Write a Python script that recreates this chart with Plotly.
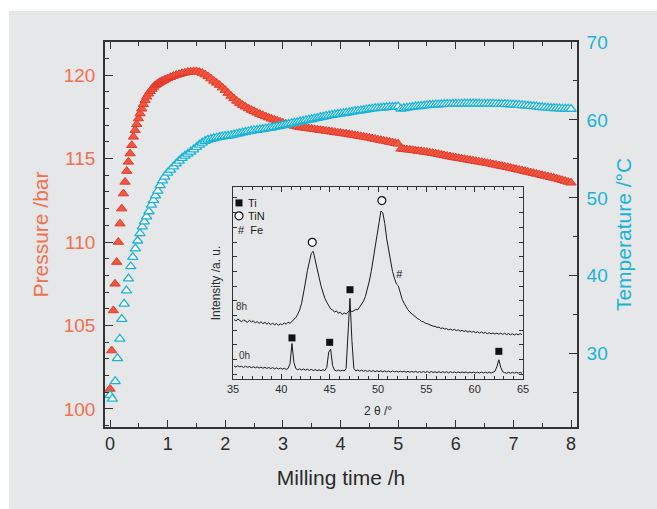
import plotly.graph_objects as go

# ---------------- main chart data ----------------
# Pressure (bar) - individually visible early points
press_t_early = [0.0, 0.029, 0.058, 0.087, 0.116, 0.145, 0.174, 0.203, 0.232, 0.261,
                 0.29, 0.319, 0.348, 0.377, 0.406, 0.435, 0.464, 0.493, 0.522, 0.551,
                 0.58, 0.609, 0.638, 0.667, 0.696, 0.725, 0.754, 0.783, 0.812, 0.841,
                 0.87, 0.899, 0.928, 0.957]
press_early = [101.2, 103.5, 105.9, 107.5, 108.8, 110.0, 111.1, 112.0, 112.9, 113.6,
               114.25, 114.8, 115.3, 115.8, 116.3, 116.7, 117.05, 117.4, 117.7, 117.98,
               118.25, 118.5, 118.7, 118.88, 119.03, 119.16, 119.28, 119.38, 119.45, 119.52,
               119.58, 119.63, 119.68, 119.73]
# Pressure band, every 0.05 h from 1.00 h to 8.00 h
press_band_start = 1.0
press_band_step = 0.05
press_band = [
    119.80, 119.87, 119.94, 120.00, 120.05, 120.10, 120.14, 120.18, 120.20, 120.22,
    120.22, 120.18, 120.12, 120.03, 119.92, 119.79, 119.65, 119.53, 119.40, 119.25,
    119.10, 118.92, 118.75, 118.60, 118.45, 118.32, 118.20, 118.10, 118.00, 117.91,
    117.83, 117.74, 117.66, 117.59, 117.52, 117.45, 117.38, 117.32, 117.26, 117.20,
    117.14, 117.08, 117.03, 116.99, 116.95, 116.91, 116.88, 116.85, 116.83, 116.80,
    116.78, 116.75, 116.73, 116.70, 116.68, 116.65, 116.63, 116.60, 116.58, 116.55,
    116.53, 116.50, 116.48, 116.45, 116.42, 116.39, 116.36, 116.33, 116.30, 116.27,
    116.24, 116.20, 116.17, 116.13, 116.10, 116.06, 116.03, 115.99, 115.96, 115.92,
    115.88, 115.58, 115.56, 115.54, 115.52, 115.50, 115.48, 115.45, 115.43, 115.40,
    115.38, 115.35, 115.32, 115.29, 115.26, 115.22, 115.19, 115.15, 115.12, 115.08,
    115.05, 115.02, 114.99, 114.96, 114.93, 114.90, 114.87, 114.84, 114.81, 114.78,
    114.75, 114.72, 114.69, 114.65, 114.62, 114.58, 114.55, 114.51, 114.48, 114.44,
    114.40, 114.36, 114.32, 114.28, 114.24, 114.20, 114.16, 114.12, 114.08, 114.04,
    114.00, 113.96, 113.92, 113.88, 113.84, 113.80, 113.75, 113.70, 113.65, 113.60,
    113.55]

# Temperature (°C)
temp_t_early = [0.0, 0.04, 0.09, 0.13, 0.17, 0.205, 0.245, 0.285, 0.32, 0.36,
                0.395, 0.44, 0.48, 0.52, 0.56, 0.595, 0.635, 0.675, 0.72, 0.755,
                0.79, 0.83, 0.87, 0.91, 0.95]
temp_early = [24.7, 24.2, 26.45, 29.4, 31.9, 34.45, 36.4, 38.1, 39.65, 41.2,
              42.4, 43.5, 44.5, 45.45, 46.3, 46.95, 47.6, 48.25, 49.1, 49.7,
              50.3, 50.9, 51.6, 52.2, 52.7]
temp_band_start = 1.0
temp_band_step = 0.05
temp_band = [
    53.20, 53.60, 54.00, 54.40, 54.75, 55.10, 55.40, 55.65, 55.90, 56.20,
    56.50, 56.80, 57.05, 57.28, 57.45, 57.55, 57.65, 57.72, 57.80, 57.86,
    57.92, 57.97, 58.03, 58.11, 58.20, 58.28, 58.37, 58.45, 58.52, 58.59,
    58.65, 58.71, 58.77, 58.83, 58.88, 58.94, 59.00, 59.07, 59.15, 59.22,
    59.30, 59.38, 59.47, 59.55, 59.62, 59.70, 59.78, 59.86, 59.94, 60.01,
    60.09, 60.17, 60.25, 60.33, 60.41, 60.49, 60.56, 60.63, 60.69, 60.75,
    60.81, 60.86, 60.92, 60.98, 61.04, 61.10, 61.15, 61.21, 61.27, 61.33,
    61.39, 61.44, 61.48, 61.52, 61.55, 61.58, 61.61, 61.64, 61.66, 61.69,
    61.72, 61.42, 61.48, 61.54, 61.60, 61.65, 61.70, 61.75, 61.79, 61.83,
    61.87, 61.90, 61.93, 61.96, 61.98, 62.00, 62.02, 62.04, 62.05, 62.06,
    62.07, 62.08, 62.08, 62.09, 62.09, 62.09, 62.09, 62.09, 62.09, 62.08,
    62.08, 62.07, 62.07, 62.06, 62.05, 62.04, 62.03, 62.02, 62.00, 61.98,
    61.96, 61.94, 61.91, 61.88, 61.85, 61.82, 61.78, 61.74, 61.70, 61.66,
    61.62, 61.59, 61.56, 61.53, 61.50, 61.48, 61.46, 61.44, 61.43, 61.42,
    61.40]

# ---------------- inset (XRD) data ----------------
xrd_start = 35.1   # 2-theta of first sample
xrd_step = 0.2
xrd_8h = [
    31.0, 30.2, 31.2, 30.5, 29.8, 30.8, 30.0, 29.5, 30.6, 29.7,
    30.3, 29.2, 29.9, 29.0, 29.8, 28.8, 29.5, 28.6, 29.3, 28.4,
    29.0, 28.2, 28.9, 28.0, 28.7, 28.3, 29.2, 28.5, 29.6, 29.0,
    30.0, 30.8, 32.0, 33.8, 36.0, 39.5, 44.5, 50.5, 56.5, 62.0,
    65.5, 66.5, 62.5, 58.5, 53.0, 48.5, 45.0, 42.0, 40.0, 38.0,
    36.5, 36.0, 34.8, 35.5, 34.2, 34.8, 33.6, 34.5, 33.8, 34.8,
    36.0, 35.0, 35.5, 36.2, 36.0, 37.5, 38.5, 40.5, 43.0, 46.5,
    51.0, 56.0, 62.5, 69.5, 76.5, 83.0, 87.5, 86.5, 81.0, 73.0,
    66.5, 60.5, 56.0, 52.5, 49.5, 48.5, 44.5, 41.5, 39.5, 37.5,
    36.0, 34.8, 34.0, 32.8, 32.2, 31.4, 30.9, 30.0, 29.8, 29.0,
    28.8, 28.3, 28.0, 27.5, 27.4, 26.9, 27.0, 26.3, 26.6, 26.0,
    26.2, 25.6, 26.0, 25.4, 25.9, 25.2, 25.6, 24.9, 25.4, 24.7,
    25.2, 24.4, 25.0, 24.3, 24.8, 24.1, 24.6, 23.9, 24.5, 23.8,
    24.3, 23.6, 24.1, 23.5, 24.0, 23.4, 23.9, 23.3, 23.9, 23.2,
    23.8, 23.1, 23.7, 23.0, 23.6, 22.9, 23.5, 23.0, 23.6, 23.1]
xrd_0h = [
    6.8, 6.2, 6.9, 6.3, 6.6, 6.0, 6.7, 6.1, 6.5, 5.9,
    6.4, 5.8, 6.3, 5.7, 6.2, 5.6, 6.1, 5.5, 6.0, 5.4,
    5.9, 5.3, 5.8, 5.2, 5.7, 5.1, 5.6, 5.0, 5.5, 8.0,
    18.5, 8.5, 5.4, 4.8, 5.3, 4.7, 5.2, 4.6, 5.1, 4.5,
    5.0, 4.4, 4.9, 4.3, 4.8, 4.3, 4.8, 4.4, 6.0, 14.0,
    15.5, 7.0, 4.6, 4.2, 4.7, 4.1, 4.6, 4.2, 5.5, 25.0,
    42.0, 20.0, 5.5, 4.2, 4.7, 4.1, 4.6, 4.0, 4.5, 3.9,
    4.4, 3.9, 4.4, 3.8, 4.3, 3.8, 4.3, 3.7, 4.2, 3.7,
    4.2, 3.6, 4.2, 3.7, 4.1, 3.6, 4.1, 3.6, 4.1, 3.5,
    4.0, 3.5, 4.0, 3.5, 4.0, 3.4, 3.9, 3.4, 3.9, 3.4,
    3.9, 3.3, 3.9, 3.4, 3.8, 3.3, 3.8, 3.3, 3.8, 3.3,
    3.8, 3.2, 3.8, 3.3, 3.7, 3.2, 3.7, 3.2, 3.7, 3.2,
    3.7, 3.1, 3.6, 3.2, 3.6, 3.1, 3.6, 3.1, 3.6, 3.1,
    3.6, 3.1, 3.6, 3.1, 3.5, 4.0, 6.5, 10.0, 6.0, 3.8,
    3.3, 3.0, 3.5, 3.0, 3.5, 3.0, 3.5, 3.0, 3.4, 3.0]

ti_x = [41.1, 45.0, 47.1, 62.5]
ti_y = [21.4, 19.1, 46.5, 14.4]
tin_x = [43.2, 50.4]
tin_y = [71.2, 92.9]
fe_x = [52.2]
fe_y = [53.8]

legend_sym_x = [35.62, 35.62]
legend_sym_y = [91.7, 85.0]

assert len(press_band) == 141 and len(temp_band) == 141
assert len(xrd_8h) == 150 and len(xrd_0h) == 150

# ---------------- styling ----------------
FONT = "Liberation Sans, Arial, Helvetica, sans-serif"
PANEL = "#e6e7e9"
AX = "#333333"
RED_FILL = "#f3583d"
RED_LINE = "#e03a30"
PRESS_TXT = "#f2704f"
CYAN = "#1ab3d8"
TXT = "#2b2b2b"

red_marker = dict(symbol="triangle-up", size=9, color=RED_FILL,
                  line=dict(color=RED_LINE, width=1))
cyan_marker = dict(symbol="triangle-up", size=9, color="white",
                   line=dict(color=CYAN, width=1.3))

fig = go.Figure()

fig.add_trace(go.Scatter(x=press_t_early, y=press_early, mode="markers",
                         marker=red_marker, xaxis="x", yaxis="y",
                         showlegend=False, hoverinfo="skip"))
fig.add_trace(go.Scatter(x0=press_band_start, dx=press_band_step, y=press_band,
                         mode="markers", marker=red_marker, xaxis="x", yaxis="y",
                         showlegend=False, hoverinfo="skip"))
fig.add_trace(go.Scatter(x=temp_t_early, y=temp_early, mode="markers",
                         marker=cyan_marker, xaxis="x", yaxis="y2",
                         showlegend=False, hoverinfo="skip"))
fig.add_trace(go.Scatter(x0=temp_band_start, dx=temp_band_step, y=temp_band,
                         mode="markers", marker=cyan_marker, xaxis="x", yaxis="y2",
                         showlegend=False, hoverinfo="skip"))

# inset
fig.add_trace(go.Scatter(x0=xrd_start, dx=xrd_step, y=xrd_0h, mode="lines",
                         line=dict(color="#1a1a1a", width=1),
                         xaxis="x2", yaxis="y3", showlegend=False, hoverinfo="skip"))
fig.add_trace(go.Scatter(x0=xrd_start, dx=xrd_step, y=xrd_8h, mode="lines",
                         line=dict(color="#1a1a1a", width=1),
                         xaxis="x2", yaxis="y3", showlegend=False, hoverinfo="skip"))
fig.add_trace(go.Scatter(x=ti_x, y=ti_y, mode="markers",
                         marker=dict(symbol="square", size=7, color="#111111"),
                         xaxis="x2", yaxis="y3", showlegend=False, hoverinfo="skip"))
fig.add_trace(go.Scatter(x=tin_x, y=tin_y, mode="markers",
                         marker=dict(symbol="circle", size=8, color="white",
                                     line=dict(color="#111111", width=1.2)),
                         xaxis="x2", yaxis="y3", showlegend=False, hoverinfo="skip"))
fig.add_trace(go.Scatter(x=fe_x, y=fe_y, mode="text", text=["#"],
                         textfont=dict(family=FONT, size=11, color="#111111"),
                         xaxis="x2", yaxis="y3", showlegend=False, hoverinfo="skip"))
# inset legend symbols
fig.add_trace(go.Scatter(x=legend_sym_x[:1], y=legend_sym_y[:1], mode="markers",
                         marker=dict(symbol="square", size=7, color="#111111"),
                         xaxis="x2", yaxis="y3", showlegend=False, hoverinfo="skip"))
fig.add_trace(go.Scatter(x=legend_sym_x[1:], y=legend_sym_y[1:], mode="markers",
                         marker=dict(symbol="circle", size=8, color="white",
                                     line=dict(color="#111111", width=1.2)),
                         xaxis="x2", yaxis="y3", showlegend=False, hoverinfo="skip"))

ann_font = dict(family=FONT, size=11, color="#1a1a1a")
annotations = [
    dict(x=36.3, y=91.7, xref="x2", yref="y3", text="Ti", showarrow=False,
         xanchor="left", yanchor="middle", font=ann_font),
    dict(x=36.3, y=85.0, xref="x2", yref="y3", text="TiN", showarrow=False,
         xanchor="left", yanchor="middle", font=ann_font),
    dict(x=35.35, y=77.4, xref="x2", yref="y3", text="#  Fe", showarrow=False,
         xanchor="left", yanchor="middle", font=ann_font),
    dict(x=35.15, y=38.0, xref="x2", yref="y3", text="8h", showarrow=False,
         xanchor="left", yanchor="middle", font=dict(family=FONT, size=10, color="#333")),
    dict(x=35.45, y=12.0, xref="x2", yref="y3", text="0h", showarrow=False,
         xanchor="left", yanchor="middle", font=dict(family=FONT, size=10, color="#333")),
]

fig.update_layout(
    width=657, height=509,
    margin=dict(l=105, r=80, t=42, b=82, pad=0),
    paper_bgcolor=PANEL,
    plot_bgcolor=PANEL,
    font=dict(family=FONT, color=TXT),
    showlegend=False,
    annotations=annotations,
    # thin white border strips at the left and top of the page
    shapes=[dict(type="rect", xref="paper", yref="paper",
                 x0=-0.4, x1=-0.2034, y0=-0.4, y1=1.4,
                 fillcolor="white", line=dict(width=0), layer="below"),
            dict(type="rect", xref="paper", yref="paper",
                 x0=-0.4, x1=1.4, y0=1.0805, y1=1.4,
                 fillcolor="white", line=dict(width=0), layer="below")],
    xaxis=dict(domain=[0, 1], range=[-0.087, 8.104], tick0=0, dtick=1,
               ticks="inside", ticklen=7, tickwidth=1.3, tickcolor=AX,
               minor=dict(dtick=0.5, ticks="inside", ticklen=4, tickwidth=1.2, tickcolor=AX),
               showline=True, linecolor=AX, linewidth=1.6, mirror="ticks",
               showgrid=False, zeroline=False,
               tickfont=dict(size=18, color=TXT),
               title=dict(text="Milling time /h", font=dict(size=21, color=TXT), standoff=17)),
    yaxis=dict(range=[98.92, 121.98], tick0=100, dtick=5,
               ticks="inside", ticklen=8, tickwidth=1.3, tickcolor=AX,
               minor=dict(dtick=1, ticks="inside", ticklen=4, tickwidth=1.2, tickcolor=AX),
               showline=True, linecolor=AX, linewidth=1.6,
               showgrid=False, zeroline=False, ticklabelstandoff=4,
               tickfont=dict(size=19, color=PRESS_TXT),
               title=dict(text="Pressure /bar", font=dict(size=21, color=PRESS_TXT), standoff=9)),
    yaxis2=dict(overlaying="y", side="right", anchor="x",
                range=[20.6, 70.0], tick0=30, dtick=10,
                ticks="inside", ticklen=8, tickwidth=1.3, tickcolor=AX,
                minor=dict(dtick=5, ticks="inside", ticklen=4, tickwidth=1.2, tickcolor=AX),
                showline=True, linecolor=AX, linewidth=1.6,
                showgrid=False, zeroline=False, ticklabelstandoff=4,
                tickfont=dict(size=19, color=CYAN),
                title=dict(text="Temperature /°C", font=dict(size=21, color=CYAN), standoff=10)),
    xaxis2=dict(domain=[0.2712, 0.8856], anchor="y3", range=[35, 65],
                tick0=35, dtick=5, ticks="inside", ticklen=5, tickwidth=1, tickcolor=AX,
                minor=dict(dtick=1, ticks="inside", ticklen=3, tickwidth=1, tickcolor=AX),
                showline=True, linecolor=AX, linewidth=1.2, mirror="ticks",
                showgrid=False, zeroline=False,
                tickfont=dict(size=11, color=TXT),
                title=dict(text="2 θ /°", font=dict(size=12, color=TXT), standoff=12)),
    yaxis3=dict(domain=[0.1247, 0.6234], anchor="x2", range=[0, 100],
                tick0=2.5, dtick=7.65, ticks="inside", ticklen=4, tickwidth=1, tickcolor=AX,
                showticklabels=False,
                showline=True, linecolor=AX, linewidth=1.2, mirror="ticks",
                showgrid=False, zeroline=False,
                title=dict(text="Intensity /a. u.", font=dict(size=12, color=TXT), standoff=8)),
)

# remove the default page margin so the 657x509 figure fills the window exactly
page_js = ("document.body.style.margin='0';"
           "document.documentElement.style.overflow='hidden';"
           "document.body.style.overflow='hidden';")
fig.write_html("out.html", post_script=page_js, config={"displayModeBar": False})
